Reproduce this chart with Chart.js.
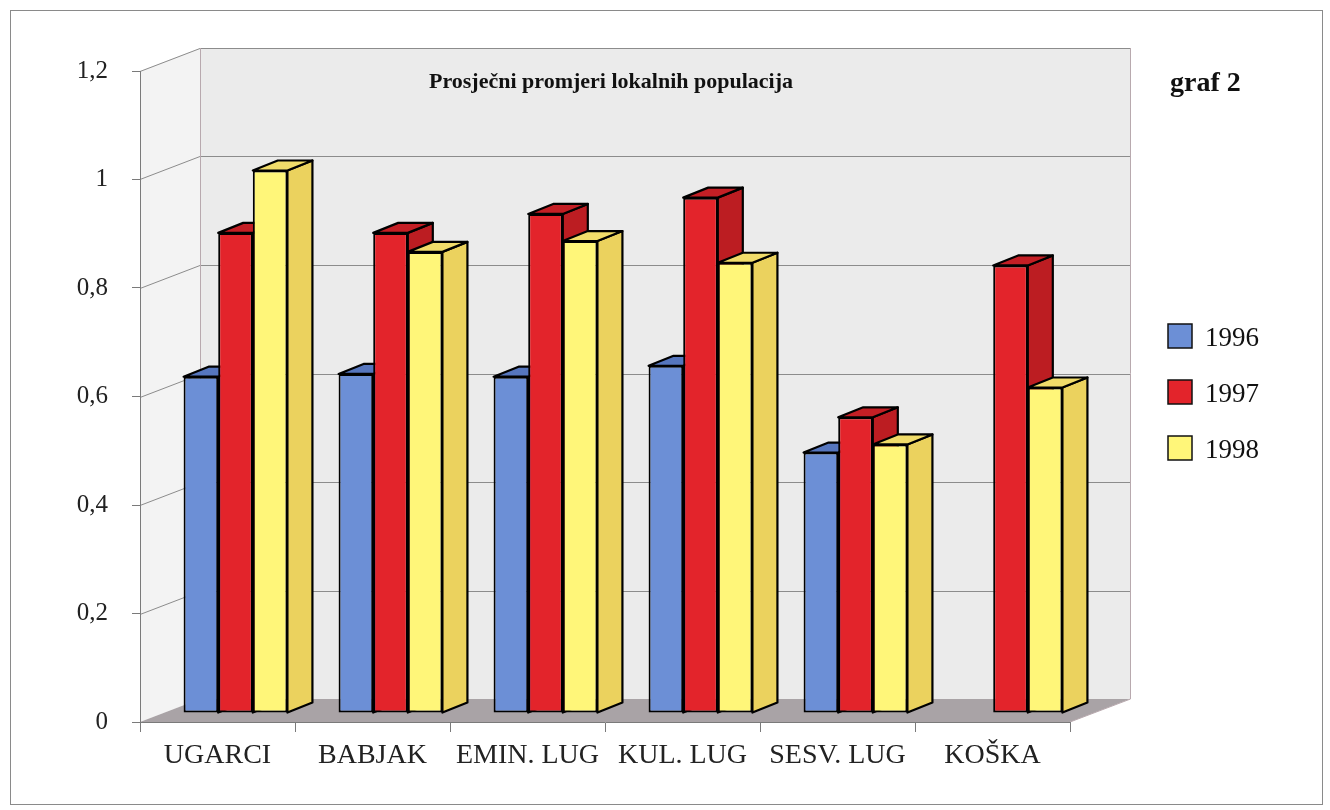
<!DOCTYPE html>
<html>
<head>
<meta charset="utf-8">
<script src="https://cdn.jsdelivr.net/npm/chart.js@4.4.0/dist/chart.umd.min.js"></script>
<style>
  html, body { margin: 0; padding: 0; background: #fff; }
  #wrap { width: 1330px; height: 810px; }
</style>
</head>
<body>
<div id="wrap"><canvas id="graf" width="1330" height="810"></canvas></div>
<script>
// podaci
var lokaliteti = ["UGARCI", "BABJAK", "EMIN. LUG", "KUL. LUG", "SESV. LUG", "KOŠKA"];
var godine = ["1996", "1997", "1998"];
var prosjek1996 = [0.62, 0.625, 0.62, 0.64, 0.48, null];
var prosjek1997 = [0.885, 0.885, 0.92, 0.95, 0.545, 0.825];
var prosjek1998 = [1.0, 0.85, 0.87, 0.83, 0.495, 0.60];
var yTicks = [0, 0.2, 0.4, 0.6, 0.8, 1, 1.2];

var prednja = ["#6C8FD6", "#E3242B", "#FFF679"];
var bocna = ["#4C6BB2", "#BC1D22", "#EBD25E"];
var gornja = ["#5676BE", "#C41F25", "#F1DC6A"];

// dubina zidova i stupaca
var DX = 60, DY = -23;
var SHIFT_X = 18, SHIFT_Y = -9;
var BX = 25, BY = -10;
var serif = "'Liberation Serif', 'Times New Roman', serif";

function poly(ctx, pts, fill, stroke, lw) {
    ctx.beginPath();
    ctx.moveTo(pts[0][0], pts[0][1]);
    for (var i = 1; i < pts.length; i++) ctx.lineTo(pts[i][0], pts[i][1]);
    ctx.closePath();
    if (fill) { ctx.fillStyle = fill; ctx.fill(); }
    if (stroke) { ctx.strokeStyle = stroke; ctx.lineWidth = lw || 1; ctx.stroke(); }
}

//zidovi iza stupaca
const zidovi = {
    id: 'zidovi',
    beforeDraw: (chart) => {
        const ctx = chart.ctx;
        const a = chart.chartArea;
        const ys = chart.scales.y;
        ctx.save();
        ctx.fillStyle = "#fff";
        ctx.fillRect(0, 0, chart.width, chart.height);
        // bocni zid
        poly(ctx, [[a.left, a.top], [a.left + DX, a.top + DY], [a.left + DX, a.bottom + DY], [a.left, a.bottom]], "#F3F3F3");
        // straznji zid
        poly(ctx, [[a.left + DX, a.top + DY], [a.right + DX, a.top + DY], [a.right + DX, a.bottom + DY], [a.left + DX, a.bottom + DY]], "#EBEBEB");
        // pod
        poly(ctx, [[a.left, a.bottom], [a.right, a.bottom], [a.right + DX, a.bottom + DY], [a.left + DX, a.bottom + DY]], "#A9A3A6");
        ctx.strokeStyle = "#8C8C8C";
        ctx.lineWidth = 1;
        yTicks.forEach(function (v) {
            if (v === 0) return;
            var y = Math.round(ys.getPixelForValue(v)) + 0.5;
            ctx.beginPath();
            ctx.moveTo(a.left, y);
            ctx.lineTo(a.left + DX, y + DY);
            ctx.lineTo(a.right + DX, y + DY);
            ctx.stroke();
        });
        ctx.strokeStyle = "#B8A9AE";
        ctx.beginPath();
        ctx.moveTo(a.left + DX + 0.5, a.top + DY);
        ctx.lineTo(a.left + DX + 0.5, a.bottom + DY);
        ctx.moveTo(a.right + DX + 0.5, a.top + DY);
        ctx.lineTo(a.right + DX + 0.5, a.bottom + DY);
        ctx.lineTo(a.right, a.bottom);
        ctx.stroke();
        ctx.restore();
    },
    // stupce crtamo sami, slijeva nadesno (1996, 1997, 1998)
    beforeDatasetDraw: () => false,
    afterDatasetsDraw: (chart) => {
        const ctx = chart.ctx;
        ctx.save();
        ctx.translate(SHIFT_X, SHIFT_Y);
        ctx.lineJoin = "round";
        chart.data.datasets.forEach(function (ds, di) {
            const meta = chart.getDatasetMeta(di);
            meta.data.forEach(function (bar, i) {
                var val = ds.data[i];
                if (val === null || isNaN(bar.y)) return;
                bar.draw(ctx);
                var l = bar.x - bar.width / 2, r = bar.x + bar.width / 2;
                var t = bar.y, b = bar.base;
                poly(ctx, [[r, t], [r + BX, t + BY], [r + BX, b + BY], [r, b]], bocna[di], "#000", 2.2);
                poly(ctx, [[l, t], [l + BX, t + BY], [r + BX, t + BY], [r, t]], gornja[di], "#000", 2.2);
            });
        });
        ctx.restore();
    },
    afterDraw: (chart) => {
        const ctx = chart.ctx;
        ctx.save();
        // okvir
        ctx.strokeStyle = "#8A8A8A";
        ctx.lineWidth = 1;
        ctx.strokeRect(10.5, 10.5, 1312, 794);
        // naslov
        ctx.fillStyle = "#111";
        ctx.textBaseline = "alphabetic";
        ctx.textAlign = "center";
        ctx.font = "bold 22px " + serif;
        ctx.fillText("Prosječni promjeri lokalnih populacija", 611, 88);
        ctx.textAlign = "left";
        ctx.font = "bold 28px " + serif;
        ctx.fillText("graf 2", 1170, 91);
        // legenda
        ctx.font = "27px " + serif;
        chart.data.datasets.forEach(function (ds, i) {
            var y = 324 + i * 56;
            ctx.fillStyle = ds.backgroundColor;
            ctx.fillRect(1168, y, 24, 24);
            ctx.strokeStyle = "#111";
            ctx.lineWidth = 1.5;
            ctx.strokeRect(1168, y, 24, 24);
            ctx.fillStyle = "#111";
            ctx.fillText(ds.label, 1205, y + 22);
        });
        ctx.restore();
    }
};

var serije = [prosjek1996, prosjek1997, prosjek1998];
var datasets = serije.map(function (s, i) {
    return {
        label: godine[i],
        data: s,
        backgroundColor: prednja[i],
        borderColor: "#000",
        borderWidth: 2,
        borderSkipped: false
    };
});

var ctx = document.getElementById("graf").getContext('2d');
var graf = new Chart(ctx, {
    type: 'bar',
    data: {
        labels: lokaliteti,
        datasets: datasets
    },
    options: {
        responsive: false,
        animation: false,
        categoryPercentage: 0.67,
        barPercentage: 1,
        layout: { padding: { left: 10, top: 71, right: 260, bottom: 0 } },
        plugins: {
            legend: { display: false },
            tooltip: { enabled: false }
        },
        scales: {
            x: {
                afterFit: (scale) => { scale.height = 88; },
                grid: { drawOnChartArea: false, offset: true, tickLength: 10, color: "#7A7A7A" },
                border: { color: "#7A7A7A", width: 1 },
                ticks: { color: "#222", font: { family: serif, size: 28 }, padding: 7, maxRotation: 0 }
            },
            y: {
                min: 0,
                max: 1.2,
                afterFit: (scale) => { scale.width = 130; },
                afterBuildTicks: (scale) => { scale.ticks = yTicks.map(v => ({ value: v })); },
                grid: { drawOnChartArea: false, tickLength: 8, color: "#7A7A7A" },
                border: { color: "#7A7A7A", width: 1 },
                ticks: {
                    color: "#222",
                    padding: 24,
                    font: { family: serif, size: 25 },
                    callback: (v) => String(Math.round(v * 10) / 10).replace('.', ',')
                }
            }
        }
    },
    plugins: [zidovi]
});
</script>
</body>
</html>
